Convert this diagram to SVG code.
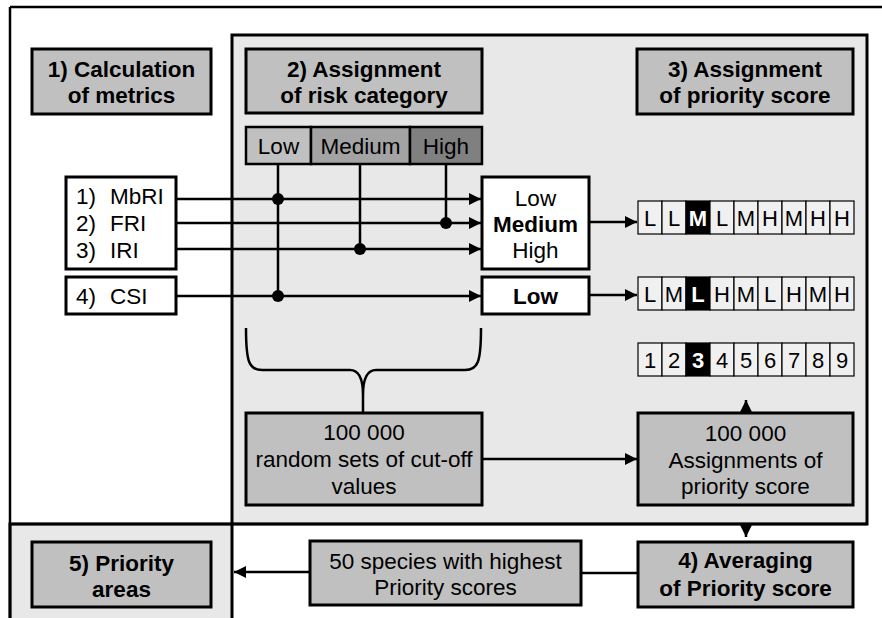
<svg xmlns="http://www.w3.org/2000/svg" width="882" height="618" viewBox="0 0 882 618">
<defs>
<marker id="ah" viewBox="0 0 12 12" refX="12" refY="6" markerWidth="12" markerHeight="12" markerUnits="userSpaceOnUse" orient="auto">
<path d="M0,0 L12,6 L0,12 Z" fill="#000"/>
</marker>
<style>
text{font-family:"Liberation Sans",Arial,sans-serif;font-size:22.5px;fill:#000}
.b{font-weight:bold}
.c{text-anchor:middle}
.hdr{fill:#c0c0c0;stroke:#000;stroke-width:3}
.wb{fill:#fff;stroke:#000;stroke-width:3}
.cell{fill:#f0f0f0;stroke:#000;stroke-width:1.2}
.blk{fill:#000;stroke:#000;stroke-width:1.2}
.ln{fill:none;stroke:#000;stroke-width:2.5}
.ar{fill:none;stroke:#000;stroke-width:2.5;marker-end:url(#ah)}
.w{fill:#fff}
.s{font-size:22px}
</style>
</defs>
<rect width="882" height="618" fill="#fff"/>
<g id="panels">
<rect x="232" y="35" width="635" height="489" fill="#e8e8e8" stroke="#000" stroke-width="3"/>
<rect x="10" y="524" width="222" height="100" fill="#e8e8e8" stroke="#000" stroke-width="3"/>
<path d="M10,7 L882,7 M10,7 L10,618 M10,524 L867,524" class="ln" stroke-width="3"/>
</g>
<g id="h1"><rect class="hdr" x="32" y="49" width="179" height="65"/><text class="b c" x="121.5" y="77">1) Calculation</text><text class="b c" x="121.5" y="103">of metrics</text></g>
<g id="h2"><rect class="hdr" x="246" y="49" width="236" height="64"/><text class="b c" x="364" y="77">2) Assignment</text><text class="b c" x="364" y="103">of risk category</text></g>
<g id="h3"><rect class="hdr" x="637" y="49" width="216" height="65"/><text class="b c" x="745" y="77">3) Assignment</text><text class="b c" x="745" y="103">of priority score</text></g>
<g id="bar">
<rect x="246" y="127" width="65" height="37" fill="#c0c0c0" stroke="#000" stroke-width="2.5"/>
<rect x="311" y="127" width="99" height="37" fill="#a3a3a3" stroke="#000" stroke-width="2.5"/>
<rect x="410" y="127" width="72" height="37" fill="#808080" stroke="#000" stroke-width="2.5"/>
<text class="c" x="278.5" y="154">Low</text><text class="c" x="360.5" y="154">Medium</text><text class="c" x="446" y="154">High</text>
</g>
<g id="metrics"><rect class="wb" x="66" y="177" width="110" height="92"/>
<text x="76" y="204">1)</text><text x="110" y="204">MbRI</text>
<text x="76" y="231">2)</text><text x="110" y="231">FRI</text>
<text x="76" y="258">3)</text><text x="110" y="258">IRI</text></g>
<g id="csi"><rect class="wb" x="66" y="277" width="110" height="37"/><text x="76" y="304">4)</text><text x="110" y="304">CSI</text></g>
<g id="lmh"><rect class="wb" x="482" y="177" width="107" height="92"/><text class="c" x="535.5" y="206">Low</text><text class="b c" x="535.5" y="232">Medium</text><text class="c" x="535.5" y="258">High</text></g>
<g id="low"><rect class="wb" x="482" y="277" width="107" height="37"/><text class="b c" x="535.5" y="304">Low</text></g>
<g id="strip1">
<rect class="cell" x="638" y="201" width="24" height="33"/><rect class="cell" x="662" y="201" width="24" height="33"/><rect class="blk" x="686" y="201" width="24" height="33"/><rect class="cell" x="710" y="201" width="24" height="33"/><rect class="cell" x="734" y="201" width="24" height="33"/><rect class="cell" x="758" y="201" width="24" height="33"/><rect class="cell" x="782" y="201" width="24" height="33"/><rect class="cell" x="806" y="201" width="24" height="33"/><rect class="cell" x="830" y="201" width="24" height="33"/>
<text class="c s" x="650" y="226">L</text><text class="c s" x="674" y="226">L</text><text class="c b w s" x="698" y="226">M</text><text class="c s" x="722" y="226">L</text><text class="c s" x="746" y="226">M</text><text class="c s" x="770" y="226">H</text><text class="c s" x="794" y="226">M</text><text class="c s" x="818" y="226">H</text><text class="c s" x="842" y="226">H</text>
</g>
<g id="strip2">
<rect class="cell" x="638" y="277" width="24" height="33"/><rect class="cell" x="662" y="277" width="24" height="33"/><rect class="blk" x="686" y="277" width="24" height="33"/><rect class="cell" x="710" y="277" width="24" height="33"/><rect class="cell" x="734" y="277" width="24" height="33"/><rect class="cell" x="758" y="277" width="24" height="33"/><rect class="cell" x="782" y="277" width="24" height="33"/><rect class="cell" x="806" y="277" width="24" height="33"/><rect class="cell" x="830" y="277" width="24" height="33"/>
<text class="c s" x="650" y="302">L</text><text class="c s" x="674" y="302">M</text><text class="c b w s" x="698" y="302">L</text><text class="c s" x="722" y="302">H</text><text class="c s" x="746" y="302">M</text><text class="c s" x="770" y="302">L</text><text class="c s" x="794" y="302">H</text><text class="c s" x="818" y="302">M</text><text class="c s" x="842" y="302">H</text>
</g>
<g id="strip3">
<rect class="cell" x="638" y="343" width="24" height="33"/><rect class="cell" x="662" y="343" width="24" height="33"/><rect class="blk" x="686" y="343" width="24" height="33"/><rect class="cell" x="710" y="343" width="24" height="33"/><rect class="cell" x="734" y="343" width="24" height="33"/><rect class="cell" x="758" y="343" width="24" height="33"/><rect class="cell" x="782" y="343" width="24" height="33"/><rect class="cell" x="806" y="343" width="24" height="33"/><rect class="cell" x="830" y="343" width="24" height="33"/>
<text class="c s" x="650" y="368">1</text><text class="c s" x="674" y="368">2</text><text class="c b w s" x="698" y="368">3</text><text class="c s" x="722" y="368">4</text><text class="c s" x="746" y="368">5</text><text class="c s" x="770" y="368">6</text><text class="c s" x="794" y="368">7</text><text class="c s" x="818" y="368">8</text><text class="c s" x="842" y="368">9</text>
</g>
<g id="random"><rect class="hdr" x="246" y="413" width="236" height="92"/><text class="c" x="364" y="440">100 000</text><text class="c" x="364" y="467">random sets of cut-off</text><text class="c" x="364" y="494">values</text></g>
<g id="assign"><rect class="hdr" x="638" y="413" width="215" height="92"/><text class="c" x="745.5" y="441">100 000</text><text class="c" x="745.5" y="468">Assignments of</text><text class="c" x="745.5" y="494">priority score</text></g>
<g id="avg"><rect class="hdr" x="638" y="542" width="215" height="65"/><text class="b c" x="745.5" y="568">4) Averaging</text><text class="b c" x="745.5" y="596">of Priority score</text></g>
<g id="species"><rect class="hdr" x="310" y="541" width="271" height="64"/><text class="c" x="445.5" y="569">50 species with highest</text><text class="c" x="445.5" y="595">Priority scores</text></g>
<g id="areas"><rect class="hdr" x="32" y="542" width="179" height="65"/><text class="b c" x="121.5" y="571">5) Priority</text><text class="b c" x="121.5" y="597">areas</text></g>
<g id="connectors">
<path class="ln" d="M278,164 L278,296 M360,164 L360,249 M446,164 L446,223"/>
<path class="ar" d="M176,199 L481,199"/>
<path class="ar" d="M176,223 L481,223"/>
<path class="ar" d="M176,249 L481,249"/>
<path class="ar" d="M176,296 L481,296"/>
<circle cx="278" cy="199" r="6"/><circle cx="278" cy="296" r="6"/><circle cx="446" cy="223" r="6"/><circle cx="360" cy="249" r="6"/>
<path class="ar" d="M589,222 L637,222"/>
<path class="ar" d="M589,295 L637,295"/>
<path class="ln" d="M246,328 C246,362 249,370 262,370 L350,370 C359,370 363,378 363,395 L363,413 M481,328 C481,362 478,370 465,370 L376,370 C367,370 363,378 363,395"/>
<path class="ar" d="M482,459 L637,459"/>
<path class="ar" d="M746,413 L746,400"/>
<path class="ar" d="M746,524 L746,537"/>
<path class="ln" d="M581,573 L638,573"/>
<path class="ar" d="M310,572 L234,572"/>
</g>
</svg>
